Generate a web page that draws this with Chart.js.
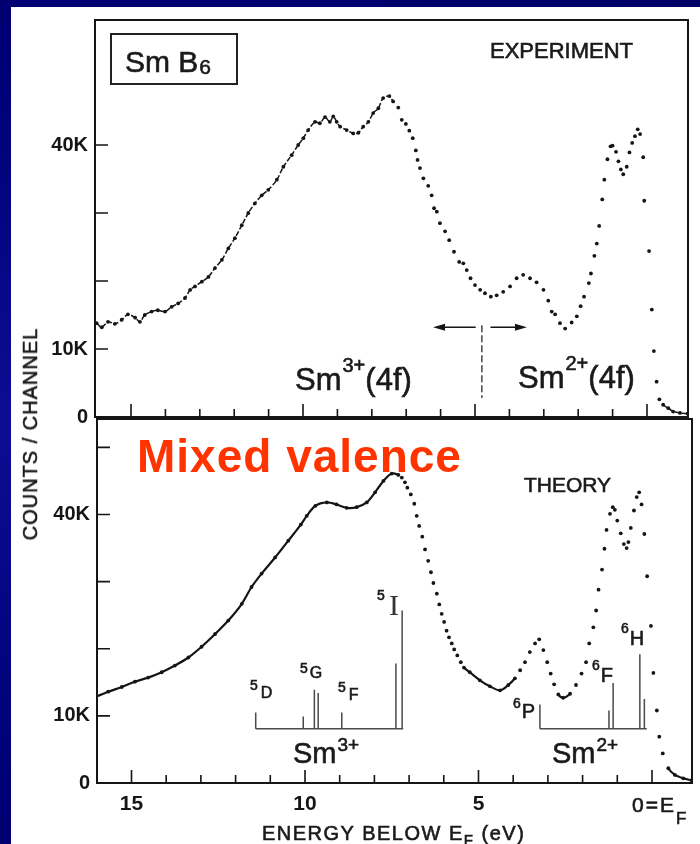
<!DOCTYPE html>
<html>
<head>
<meta charset="utf-8">
<script src="https://cdn.jsdelivr.net/npm/chart.js@4.4.1/dist/chart.umd.min.js"></script>
<style>
html, body { margin: 0; padding: 0; }
body {
    width: 700px; height: 844px; overflow: hidden; position: relative;
    background: radial-gradient(ellipse at 0% 50%, #0d0d94 0%, #000078 55%, #000066 100%);
}
#paper { position: absolute; left: 11px; top: 7px; right: 0; bottom: 0; background: #fff; }
canvas { position: absolute; left: 0; }
.t { position: absolute; line-height: 1; white-space: nowrap; color: #1a1a1a;
     font-family: "Liberation Sans", Arial, sans-serif; -webkit-text-stroke: 0.6px #1a1a1a; }
.s { position: relative; display: inline-block; }
#box { position: absolute; left: 110px; top: 33px; width: 124px; height: 48px; border: 2px solid #222; }
</style>
</head>
<body>
<div id="paper"></div>
<div id="box"></div>
<canvas id="topChart" width="700" height="440" style="top:0"></canvas>
<canvas id="bottomChart" width="700" height="444" style="top:400px"></canvas>

<div class="t" style="left:125px; top:46.6px; font-size:30px;">Sm B<span class="s" style="font-size:21px; top:2px; margin-left:1px;">6</span></div>
<div class="t" style="left:490px; top:40.4px; font-size:22px;">EXPERIMENT</div>
<div class="t" style="left:295px; top:363.8px; font-size:31px;">Sm<span class="s" style="font-size:20px; top:-18px; margin-left:1px;">3+</span>(4f)</div>
<div class="t" style="left:518px; top:361.8px; font-size:31px;">Sm<span class="s" style="font-size:20px; top:-18px; margin-left:1px;">2+</span>(4f)</div>
<div class="t" style="left:137px; top:433px; font-size:46px; font-weight:bold; letter-spacing:1px; color:#ff3300; -webkit-text-stroke:0;">Mixed valence</div>
<div class="t" style="left:524px; top:474.2px; font-size:21px;">THEORY</div>

<div class="t" style="left:250px; top:684.5px; font-size:16px;"><span class="s" style="font-size:14px; top:-8px; margin-right:3px;">5</span>D</div>
<div class="t" style="left:300px; top:664.5px; font-size:16px;"><span class="s" style="font-size:14px; top:-5px; margin-right:2px;">5</span>G</div>
<div class="t" style="left:338px; top:686.5px; font-size:16px;"><span class="s" style="font-size:14px; top:-8px; margin-right:3px;">5</span>F</div>
<div class="t" style="left:377px; top:588.2px; font-size:14px;">5</div>
<div class="t" style="left:389px; top:590px; font-size:30px; font-family:'Liberation Serif',serif; color:#333; -webkit-text-stroke:0;">I</div>
<div class="t" style="left:513px; top:701px; font-size:20px;"><span class="s" style="font-size:14px; top:-10px; margin-right:1px;">6</span>P</div>
<div class="t" style="left:592px; top:665px; font-size:20px;"><span class="s" style="font-size:14px; top:-12px; margin-right:1px;">6</span>F</div>
<div class="t" style="left:621px; top:628px; font-size:20px;"><span class="s" style="font-size:14px; top:-12px; margin-right:1px;">6</span>H</div>
<div class="t" style="left:293px; top:738.5px; font-size:29px;">Sm<span class="s" style="font-size:19px; top:-12px; margin-left:1px;">3+</span></div>
<div class="t" style="left:552px; top:738.5px; font-size:29px;">Sm<span class="s" style="font-size:19px; top:-12px; margin-left:1px;">2+</span></div>

<div class="t" style="left:30px; top:434px; font-size:20px; letter-spacing:1px; transform:translate(-50%,-50%) rotate(-90deg);">COUNTS / CHANNEL</div>
<div class="t" style="left:632px; top:794.2px; font-size:21px; letter-spacing:2px;">0=E<span class="s" style="font-size:17px; top:12px;">F</span></div>
<div class="t" style="left:262px; top:823px; font-size:20px; letter-spacing:1.5px;">ENERGY BELOW E<span class="s" style="font-size:15px; top:5px;">F</span> (eV)</div>

<script>
// energies in eV below E_F, counts in thousands (K)
const expEnergy = [16.0, 15.85, 15.67, 15.47, 15.27, 15.09, 14.88, 14.74, 14.6, 14.4,
    14.22, 14.01, 13.82, 13.63, 13.43, 13.28, 13.14, 12.94, 12.75, 12.56,
    12.36, 12.17, 11.98, 11.78, 11.59, 11.4, 11.2, 11.01, 10.76, 10.57,
    10.33, 10.14, 9.99, 9.85, 9.65, 9.51, 9.36, 9.22, 9.12, 9.02,
    8.92, 8.73, 8.54, 8.39, 8.25, 8.1, 7.96, 7.81, 7.67, 7.49,
    7.38, 7.23, 7.13, 7.01, 6.91, 6.81, 6.72, 6.67, 6.6, 6.5,
    6.36, 6.26, 6.19, 6.11, 6.02, 5.87, 5.75, 5.61, 5.46, 5.34,
    5.24, 5.13, 5.0, 4.85, 4.71, 4.54, 4.37, 4.18, 3.98, 3.79,
    3.6, 3.4, 3.21, 3.01, 2.87, 2.77, 2.67, 2.53, 2.38, 2.19,
    2.04, 1.93, 1.83, 1.69, 1.63, 1.53, 1.46, 1.39, 1.3, 1.24,
    1.15, 1.06, 1.0, 0.9, 0.83, 0.76, 0.69, 0.59, 0.51, 0.43,
    0.35, 0.27, 0.2, 0.11, 0.08, -0.06, -0.14, -0.2, -0.28, -0.36,
    -0.47, -0.62, -0.76, -0.96, -1.18];
const expCounts = [13.8, 13.2, 14.0, 13.7, 14.3, 15.1, 14.6, 14.0, 15.0, 15.5,
    15.7, 15.5, 16.2, 16.7, 17.5, 18.7, 19.2, 19.9, 20.6, 21.9,
    23.1, 24.8, 26.3, 28.2, 30.0, 31.4, 32.6, 33.4, 34.9, 36.8,
    38.5, 40.0, 41.0, 42.2, 43.4, 43.2, 44.1, 43.4, 44.2, 43.4,
    42.7, 42.2, 41.7, 41.8, 42.7, 43.4, 44.7, 45.4, 46.9, 47.2,
    46.4, 45.5, 43.7, 43.1, 42.1, 41.0, 39.2, 37.8, 36.6, 35.1,
    34.0, 32.6, 30.7, 30.2, 28.5, 27.3, 26.0, 24.3, 22.8, 22.6,
    21.6, 20.4, 19.4, 18.7, 18.2, 17.7, 17.9, 18.4, 19.2, 20.4,
    20.9, 20.4, 19.8, 18.7, 17.1, 15.5, 15.1, 13.8, 13.0, 13.9,
    14.8, 16.3, 17.7, 19.7, 21.1, 23.7, 25.5, 28.1, 32.0, 34.9,
    37.9, 39.8, 39.9, 39.0, 37.6, 36.4, 35.7, 36.8, 38.9, 40.3,
    41.3, 42.3, 41.6, 38.2, 31.8, 24.4, 15.8, 9.7, 5.2, 2.6,
    1.8, 1.3, 0.8, 0.6, 0.5];

const theoryEnergy = [16.05, 15.67, 15.28, 14.9, 14.52, 14.13, 13.75, 13.36, 12.98, 12.59,
    12.21, 11.82, 11.54, 11.25, 10.86, 10.48, 10.12, 9.95, 9.7, 9.37,
    9.09, 8.8, 8.51, 8.22, 7.98, 7.74, 7.5, 7.31, 7.21, 7.12,
    7.05, 6.95, 6.85, 6.78, 6.71, 6.62, 6.54, 6.45, 6.37, 6.3,
    6.2, 6.13, 6.06, 5.99, 5.92, 5.85, 5.77, 5.7, 5.61, 5.51,
    5.42, 5.25, 4.96, 4.67, 4.38, 4.14, 3.95, 3.8, 3.66, 3.52,
    3.37, 3.25, 3.13, 3.02, 2.92, 2.82, 2.7, 2.56, 2.36, 2.19,
    2.03, 1.9, 1.81, 1.69, 1.61, 1.54, 1.44, 1.37, 1.31, 1.21,
    1.13, 1.07, 1.0, 0.9, 0.81, 0.73, 0.68, 0.61, 0.52, 0.44,
    0.37, 0.3, 0.22, 0.14, 0.03, -0.04, -0.14, -0.21, -0.31, -0.47,
    -0.66, -0.9, -1.14];
const theoryCounts = [12.8, 13.6, 14.3, 15.1, 15.7, 16.5, 17.5, 18.7, 20.3, 22.2,
    24.2, 26.7, 29.2, 31.2, 33.6, 36.1, 38.5, 39.8, 41.3, 41.8,
    41.5, 41.0, 41.1, 41.8, 43.3, 45.0, 46.1, 45.9, 45.5, 44.8,
    44.0, 43.0, 41.6, 39.8, 38.3, 36.7, 34.8, 33.1, 31.4, 29.8,
    28.2, 26.6, 25.2, 24.0, 22.7, 21.7, 20.8, 19.9, 19.0, 18.0,
    17.2, 16.5, 15.3, 14.4, 13.8, 14.6, 15.6, 16.8, 18.0, 19.5,
    20.8, 21.4, 19.8, 18.0, 16.3, 14.7, 13.2, 12.7, 13.3, 14.6,
    16.3, 18.0, 20.8, 23.2, 25.7, 28.8, 31.8, 34.9, 37.7, 40.1,
    41.1, 40.7, 39.1, 37.2, 35.6, 35.0, 35.9, 38.0, 40.6, 42.6,
    43.3, 41.5, 37.1, 30.8, 23.4, 16.4, 10.8, 6.9, 4.4, 2.2,
    1.2, 0.7, 0.4];

// multiplet stick spectra (energy, height in K) sitting on a common baseline
const stickBase = 8.1;
const sm3Span = [11.42, 7.17];
const sm3StickEnergy = [11.42, 10.05, 9.73, 9.62, 8.94, 7.38, 7.2];
const sm3StickTop = [10.5, 9.9, 13.9, 13.4, 10.5, 17.8, 25.7];
const sm2Span = [3.23, 0.15];
const sm2StickEnergy = [3.23, 1.24, 1.12, 0.35, 0.22];
const sm2StickTop = [11.7, 10.8, 14.9, 19.2, 12.5];

// energy ranges where the curves were printed as a continuous trace
const expTraceRanges = [[7.3, 16.2], [-1.2, -0.4]];
const theoryTraceRanges = [[7.25, 16.2], [3.85, 5.45], [2.3, 2.75], [-1.2, -0.4]];

// valence boundary marker in the experiment panel (eV, K)
const boundaryEnergy = 4.8;
const boundaryFromTo = [2.8, 13.5];
const arrowLevel = 13.2;
const arrowToSm3 = [4.98, 6.22];
const arrowToSm2 = [4.55, 3.49];

const ink = '#151515';
const fontFamily = '"Liberation Sans", Arial, sans-serif';

const toPoints = (xs, ys) => xs.map((x, i) => ({ x: x, y: ys[i] }));
const inRanges = (v, ranges) => ranges.some(r => v >= r[0] && v <= r[1]);

function stickPoints() {
    const pts = [];
    [[sm3Span, sm3StickEnergy, sm3StickTop], [sm2Span, sm2StickEnergy, sm2StickTop]].forEach(([span, es, tops]) => {
        pts.push({ x: span[0], y: stickBase }, { x: span[1], y: stickBase }, { x: span[1], y: null });
        es.forEach((e, i) => {
            pts.push({ x: e, y: stickBase }, { x: e, y: tops[i] }, { x: e, y: null });
        });
    });
    return pts;
}

const isInt = v => Math.abs(v - Math.round(v)) < 1e-6;

const frameTicks = {
    id: 'frameTicks',
    afterDatasetsDraw(chart, args, opts) {
        const { ctx, chartArea: a, scales: { x, y } } = chart;
        ctx.save();
        ctx.strokeStyle = ink;
        ctx.lineWidth = 2;
        ctx.strokeRect(a.left, a.top, a.right - a.left, a.bottom - a.top);
        ctx.lineWidth = 1.6;
        ctx.beginPath();
        x.ticks.forEach(t => {
            if (!isInt(t.value) || t.value < 0 || t.value > 15) return;
            const px = x.getPixelForValue(t.value);
            const len = Math.round(t.value) % 5 === 0 ? 13 : 8;
            ctx.moveTo(px, a.bottom);
            ctx.lineTo(px, a.bottom - len);
        });
        y.ticks.forEach(t => {
            if (t.value <= 0 || t.value > opts.yTickMax) return;
            const py = y.getPixelForValue(t.value);
            ctx.moveTo(a.left, py);
            ctx.lineTo(a.left + 13, py);
        });
        ctx.stroke();
        ctx.restore();
    }
};

function arrow(ctx, x1, x2, py) {
    const dir = Math.sign(x2 - x1);
    ctx.beginPath();
    ctx.moveTo(x1, py);
    ctx.lineTo(x2 - dir * 8, py);
    ctx.stroke();
    ctx.beginPath();
    ctx.moveTo(x2, py);
    ctx.lineTo(x2 - dir * 12, py - 3.5);
    ctx.lineTo(x2 - dir * 12, py + 3.5);
    ctx.closePath();
    ctx.fill();
}

const valenceMarker = {
    id: 'valenceMarker',
    afterDatasetsDraw(chart) {
        const { ctx, scales: { x, y } } = chart;
        ctx.save();
        ctx.strokeStyle = ink;
        ctx.fillStyle = ink;
        ctx.lineWidth = 1.5;
        const py = y.getPixelForValue(arrowLevel);
        arrow(ctx, x.getPixelForValue(arrowToSm3[0]), x.getPixelForValue(arrowToSm3[1]), py);
        arrow(ctx, x.getPixelForValue(arrowToSm2[0]), x.getPixelForValue(arrowToSm2[1]), py);
        ctx.setLineDash([7, 3]);
        ctx.lineWidth = 1.2;
        const bx = x.getPixelForValue(boundaryEnergy);
        ctx.beginPath();
        ctx.moveTo(bx, y.getPixelForValue(boundaryFromTo[1]));
        ctx.lineTo(bx, y.getPixelForValue(boundaryFromTo[0]));
        ctx.stroke();
        ctx.restore();
    }
};

function curveDataset(xs, ys, ranges, lineWidth, radius, dash) {
    return {
        data: toPoints(xs, ys),
        showLine: true,
        borderColor: ink,
        borderWidth: lineWidth,
        borderDash: dash,
        tension: 0.3,
        pointRadius: radius,
        pointBackgroundColor: ink,
        pointBorderWidth: 0,
        segment: {
            borderColor: c => (inRanges(c.p0.parsed.x, ranges) && inRanges(c.p1.parsed.x, ranges)) ? ink : 'rgba(0,0,0,0)'
        }
    };
}

function panelOptions(cfg) {
    return {
        responsive: false,
        animation: false,
        layout: { padding: { top: cfg.padTop, right: cfg.padRight, left: 0, bottom: 0 } },
        plugins: {
            legend: { display: false },
            tooltip: { enabled: false },
            frameTicks: { yTickMax: cfg.yTickMax }
        },
        scales: {
            x: {
                type: 'linear',
                reverse: true,
                min: cfg.xMin,
                max: cfg.xMax,
                afterFit: s => { s.height = cfg.xHeight; },
                grid: { display: false, drawTicks: false },
                border: { display: false },
                ticks: {
                    stepSize: 1,
                    includeBounds: false,
                    autoSkip: false,
                    maxRotation: 0,
                    padding: 9,
                    color: ink,
                    font: { family: fontFamily, size: 21, weight: 'bold' },
                    callback: v => (cfg.xLabels && (v === 5 || v === 10 || v === 15)) ? String(v) : ''
                }
            },
            y: {
                min: 0,
                max: cfg.yMax,
                afterFit: s => { s.width = cfg.yWidth; },
                grid: { display: false, drawTicks: false },
                border: { display: false },
                ticks: {
                    stepSize: 10,
                    includeBounds: false,
                    padding: 7,
                    color: ink,
                    font: { family: fontFamily, size: 20, weight: 'bold' },
                    callback: v => v === 0 ? '0' : (v === 10 || v === 40) ? v + 'K' : ''
                }
            }
        }
    };
}

new Chart(document.getElementById('topChart'), {
    type: 'scatter',
    data: {
        datasets: [curveDataset(expEnergy, expCounts, expTraceRanges, 1.5, 1.9, [5, 2])]
    },
    options: panelOptions({
        padTop: 20, padRight: 12, xHeight: 23, yWidth: 95,
        xMin: -1.192, xMax: 16.047, yMax: 58.38, yTickMax: 40, xLabels: false
    }),
    plugins: [frameTicks, valenceMarker]
});

new Chart(document.getElementById('bottomChart'), {
    type: 'scatter',
    data: {
        datasets: [
            curveDataset(theoryEnergy, theoryCounts, theoryTraceRanges, 2.2, 1.9, []),
            {
                data: stickPoints(),
                showLine: true,
                spanGaps: false,
                borderColor: '#4a4a4a',
                borderWidth: 1.5,
                pointRadius: 0
            }
        ]
    },
    options: panelOptions({
        padTop: 18, padRight: 8, xHeight: 61, yWidth: 97,
        xMin: -1.153, xMax: 15.994, yMax: 54.23, yTickMax: 50, xLabels: true
    }),
    plugins: [frameTicks]
});
</script>
</body>
</html>
